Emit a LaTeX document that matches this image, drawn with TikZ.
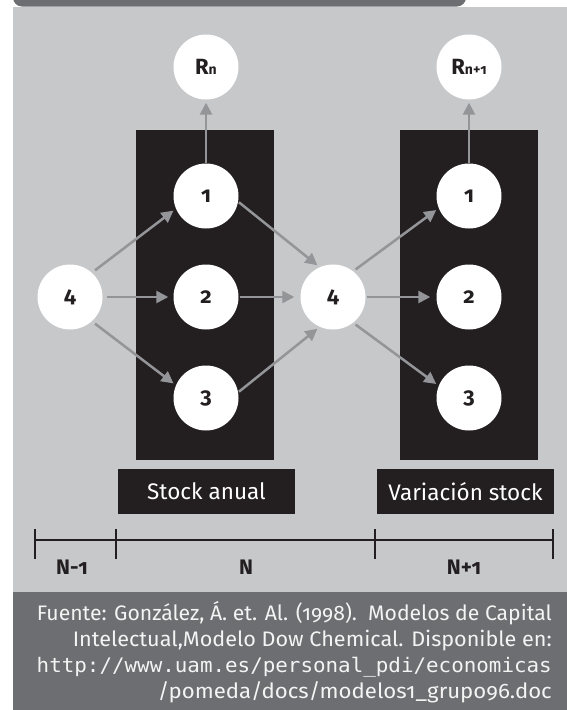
\documentclass[tikz,border=0pt]{standalone}
\usepackage{graphicx}
\usepackage{fontspec}
\setmainfont{Fira Sans}[Numbers=OldStyle]
\newfontfamily\urlfont{DejaVu Sans Mono}
\usetikzlibrary{arrows.meta,calc}
\definecolor{bgray}{HTML}{C7C8CA}
\definecolor{dband}{HTML}{6D6E71}
\definecolor{blk}{HTML}{231F20}
\definecolor{arrgray}{HTML}{939598}
\definecolor{srctext}{HTML}{F4F4F4}
\tikzset{
  circ/.style={circle, fill=white, minimum size=65pt, inner sep=0pt,
    text=blk, font=\bfseries\fontsize{22}{22}\selectfont},
  lab/.style={fill=blk, text=white, minimum width=177pt, minimum height=45pt,
    inner sep=0pt, font=\fontsize{22.5}{22.5}\selectfont},
  arr/.style={draw=arrgray, line width=2.5pt,
    -{Triangle[length=12pt,width=12pt]}},
  tick/.style={draw=blk, line width=2pt},
  tlab/.style={text=blk, font=\bfseries\fontsize{21}{21}\selectfont},
  src/.style={anchor=base east, text=srctext, inner sep=0pt,
    font=\fontsize{21}{21}\selectfont}
}
\newcommand{\fitw}[2]{\resizebox{#1}{\height}{#2}}
\begin{document}
\begin{tikzpicture}[x=1pt,y=-1pt]
\useasboundingbox (0,0) rectangle (567,710);
\fill[white] (0,0) rectangle (567,710);
\fill[bgray] (13,6.5) rectangle (567,592);
\begin{scope}
\clip (0,0) rectangle (567,710);
\fill[dband, rounded corners=9pt] (13,-20) rectangle (466,6.5);
\end{scope}
\fill[dband] (13,592) rectangle (567,710);
% columns
\fill[blk] (136,130) rectangle (274,460);
\fill[blk] (400,130) rectangle (538,460);
\node[lab] (sa) at (206.5,491.5) {Stock anual};
\node[lab] (vs) at (465.5,491.5) {Variación stock};
% circles
\node[circ] (RA) at (206,67) {R{\fontsize{14}{14}\selectfont n}};
\node[circ] (RB) at (469,67) {R{\fontsize{14}{14}\selectfont n+1}};
\node[circ] (L4) at (70,297) {4};
\node[circ] (A1) at (206,196) {1};
\node[circ] (A2) at (206,297) {2};
\node[circ] (A3) at (206,398) {3};
\node[circ] (M4) at (333,297) {4};
\node[circ] (B1) at (469,196) {1};
\node[circ] (B2) at (469,297) {2};
\node[circ] (B3) at (469,398) {3};
% arrows
\draw[arr, shorten >=3pt] (A1.north) -- (RA.south);
\draw[arr, shorten >=3pt] (B1.north) -- (RB.south);
\draw[arr, shorten <=4pt, shorten >=3pt] (L4.48) -- (A1.203);
\draw[arr, shorten <=4pt, shorten >=5pt] (L4.east) -- (A2.west);
\draw[arr, shorten <=4pt, shorten >=3pt] (L4.312) -- (A3.157);
\draw[arr, shorten <=1pt, shorten >=3pt] (A1.350) -- (M4.114);
\draw[arr, shorten <=1pt, shorten >=6pt] (A2.east) -- (M4.west);
\draw[arr, shorten <=1pt, shorten >=3pt] (A3.10) -- (M4.246);
\draw[arr, shorten <=3pt, shorten >=3pt] (M4.52) -- (B1.202);
\draw[arr, shorten <=1pt, shorten >=6pt] (M4.east) -- (B2.west);
\draw[arr, shorten <=3pt, shorten >=3pt] (M4.308) -- (B3.158);
% timeline
\coordinate (t0) at (35,540);
\coordinate (t1) at (116,540);
\coordinate (t2) at (375,540);
\coordinate (t3) at (553,540);
\draw[tick] (t0) -- (t3);
\foreach \t in {t0,t1,t2,t3} \draw[tick] ($(\t)+(0,-11)$) -- ($(\t)+(0,19)$);
\node[tlab] (n1) at (72,567) {N-1};
\node[tlab] (n2) at (246,567) {N};
\node[tlab] (n3) at (464,567) {N+1};
% source
\node[src] (s1) at (552,620) {\fitw{515pt}{Fuente: González, Á. et. Al. (1998).\ \ Modelos de Capital}};
\node[src] (s2) at (552,646) {\fitw{479pt}{Intelectual,Modelo Dow Chemical. Disponible en:}};
\node[src, font=\urlfont\fontsize{20}{20}\selectfont] (s3) at (552,672) {\fitw{515pt}{http://www.uam.es/personal\_pdi/economicas}};
\node[src] (s4) at (552,698) {\fitw{394pt}{/pomeda/docs/modelos1\_grupo96.doc}};
\end{tikzpicture}
\end{document}
